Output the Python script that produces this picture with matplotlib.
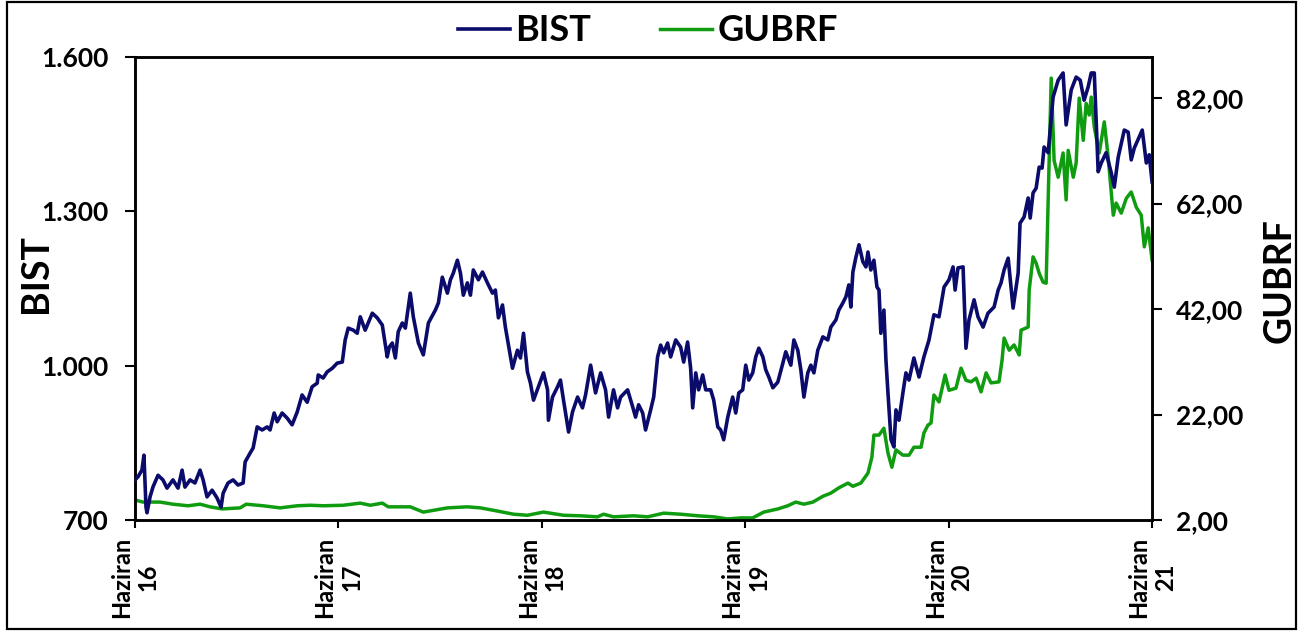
import numpy as np
import matplotlib
matplotlib.use("Agg")
import matplotlib.pyplot as plt
from matplotlib.patches import Rectangle
from matplotlib.ticker import FuncFormatter

plt.rcParams['font.family'] = ['Lato', 'DejaVu Sans']
plt.rcParams['font.weight'] = 'bold'

# x = months since Haziran 2016
bist_months = [0.00, 0.18, 0.41, 0.53, 0.65, 0.71, 0.89, 1.06, 1.36, 1.65, 1.89, 2.24, 2.54, 2.78, 2.95,
               3.25, 3.54, 3.84, 4.02, 4.25, 4.55, 4.84, 5.08, 5.20, 5.49, 5.79, 6.08, 6.38, 6.50, 6.79,
               6.97, 7.21, 7.50, 7.80, 7.97, 8.21, 8.39, 8.68, 8.98, 9.27, 9.57, 9.86, 10.16, 10.45, 10.75,
               10.81, 11.10, 11.34, 11.64, 11.93, 12.23, 12.40, 12.58, 12.88, 13.11, 13.29, 13.58, 14.00,
               14.29, 14.59, 14.88, 15.00, 15.18, 15.36, 15.53, 15.77, 15.95, 16.24, 16.42, 16.72, 17.01,
               17.31, 17.72, 17.90, 18.13, 18.43, 18.61, 18.78, 19.02, 19.20, 19.37, 19.61, 19.79, 19.96,
               20.26, 20.50, 20.79, 21.09, 21.26, 21.44, 21.68, 21.85, 22.27, 22.56, 22.74, 22.92, 23.15,
               23.33, 23.51, 23.80, 24.10, 24.34, 24.39, 24.63, 24.93, 25.10, 25.28, 25.58, 25.81, 26.11,
               26.40, 26.58, 26.88, 27.17, 27.47, 27.76, 27.94, 28.23, 28.47, 28.65, 29.06, 29.36, 29.53,
               29.71, 29.95, 30.12, 30.42, 30.60, 30.83, 31.01, 31.19, 31.42, 31.60, 31.90, 32.19, 32.37,
               32.60, 32.78, 32.90, 33.08, 33.25, 33.49, 33.67, 33.96, 34.14, 34.38, 34.55, 34.73, 34.97,
               35.26, 35.44, 35.62, 35.85, 36.03, 36.21, 36.44, 36.62, 36.80, 37.04, 37.21, 37.39, 37.63,
               37.92, 38.22, 38.39, 38.69, 38.87, 39.10, 39.28, 39.46, 39.69, 39.87, 40.05, 40.28, 40.58,
               40.87, 41.05, 41.35, 41.52, 41.76, 41.94, 42.11, 42.23, 42.35, 42.53, 42.71, 42.94, 43.12,
               43.24, 43.41, 43.59, 43.77, 43.89, 44.00, 44.18, 44.30, 44.42, 44.60, 44.77, 44.89, 45.07,
               45.30, 45.48, 45.66, 45.95, 46.25, 46.54, 46.84, 47.13, 47.43, 47.73, 48.02, 48.26, 48.38,
               48.55, 48.85, 49.02, 49.20, 49.50, 49.73, 50.03, 50.32, 50.68, 50.92, 51.09, 51.27, 51.51,
               51.68, 51.80, 52.10, 52.21, 52.45, 52.69, 52.81, 52.98, 53.16, 53.34, 53.51, 53.63, 53.87,
               54.16, 54.46, 54.75, 54.93, 55.23, 55.52, 55.76, 55.99, 56.23, 56.41, 56.59, 56.70, 56.82,
               57.00, 57.29, 57.59, 57.77, 58.00, 58.36, 58.59, 58.77, 58.95, 59.42, 59.66, 59.83, 60.00]
bist = [778, 784, 797, 826, 725, 714, 745, 764, 787, 778, 762, 778, 762, 797, 764,
        778, 772, 797, 778, 745, 758, 743, 725, 752, 772, 778, 768, 772, 813, 830,
        840, 881, 875, 881, 875, 908, 891, 908, 898, 885, 910, 943, 929, 959, 966,
        982, 976, 988, 995, 1005, 1007, 1050, 1073, 1069, 1063, 1095, 1069, 1102,
        1093, 1079, 1017, 1036, 1044, 1015, 1066, 1083, 1073, 1141, 1095, 1044, 1021,
        1083, 1108, 1122, 1172, 1141, 1167, 1180, 1205, 1180, 1137, 1161, 1137, 1186,
        1167, 1182, 1161, 1141, 1147, 1093, 1118, 1075, 995, 1030, 1015, 1063, 988,
        966, 933, 959, 986, 953, 894, 939, 959, 972, 933, 871, 910, 939,
        918, 943, 1001, 947, 986, 953, 900, 953, 918, 939, 953, 920, 900,
        924, 908, 875, 914, 939, 1017, 1040, 1025, 1044, 1017, 1050, 1036, 1007,
        1046, 995, 918, 986, 953, 982, 953, 953, 933, 881, 875, 856, 900,
        939, 908, 947, 953, 1001, 972, 986, 1017, 1034, 1017, 992, 978, 957,
        968, 1005, 1027, 1001, 1050, 1030, 992, 939, 986, 1001, 986, 1030, 1056,
        1050, 1075, 1089, 1108, 1122, 1134, 1157, 1114, 1182, 1211, 1235, 1202, 1192,
        1221, 1186, 1205, 1153, 1147, 1063, 1108, 1011, 947, 856, 842, 914, 894,
        947, 986, 972, 1015, 978, 1017, 1050, 1099, 1095, 1153, 1167, 1192, 1147,
        1190, 1192, 1034, 1089, 1128, 1095, 1075, 1102, 1114, 1147, 1161, 1186, 1209,
        1153, 1112, 1180, 1277, 1289, 1326, 1287, 1336, 1345, 1386, 1384, 1425, 1414,
        1522, 1555, 1569, 1468, 1536, 1561, 1555, 1516, 1542, 1569, 1569, 1478, 1377,
        1394, 1414, 1375, 1347, 1405, 1458, 1454, 1400, 1423, 1458, 1394, 1410, 1357]

gubrf_months = [0.00, 0.47, 1.48, 2.24, 3.13, 3.84, 4.43, 5.14, 6.20, 6.56, 7.56, 8.56, 9.57, 10.34,
                11.10, 12.29, 13.29, 13.88, 14.59, 14.94, 16.24, 17.01, 18.43, 19.61, 20.38, 21.38,
                22.33, 23.15, 24.10, 25.28, 26.28, 27.29, 27.64, 28.23, 29.42, 30.24, 31.19, 32.19,
                33.20, 34.14, 34.97, 35.74, 36.44, 37.09, 37.92, 38.51, 38.98, 39.46, 39.99, 40.58,
                41.05, 41.52, 42.06, 42.35, 42.82, 43.24, 43.47, 43.59, 43.89, 44.18, 44.42, 44.65,
                44.89, 45.30, 45.66, 45.95, 46.37, 46.54, 46.78, 46.96, 47.13, 47.43, 47.79, 48.02,
                48.43, 48.73, 49.02, 49.32, 49.62, 49.91, 50.21, 50.50, 50.97, 51.15, 51.27, 51.57,
                51.86, 52.16, 52.27, 52.69, 52.75, 52.98, 53.16, 53.34, 53.57, 53.75, 53.87, 54.05,
                54.22, 54.46, 54.75, 54.93, 55.05, 55.35, 55.52, 55.70, 55.94, 56.11, 56.29, 56.41,
                56.59, 56.88, 57.18, 57.41, 57.71, 57.88, 58.18, 58.48, 58.77, 59.07, 59.36, 59.54,
                59.77, 60.00]
gubrf = [5.8, 5.4, 5.4, 5.0, 4.7, 5.0, 4.5, 4.1, 4.3, 5.0, 4.7, 4.3, 4.7, 4.8,
         4.7, 4.8, 5.2, 4.8, 5.2, 4.5, 4.5, 3.5, 4.3, 4.5, 4.3, 3.7,
         3.1, 2.9, 3.5, 2.9, 2.8, 2.6, 3.1, 2.6, 2.8, 2.6, 3.3, 3.1,
         2.8, 2.6, 2.2, 2.4, 2.4, 3.5, 4.1, 4.7, 5.4, 5.0, 5.4, 6.5,
         7.1, 8.1, 9.0, 8.4, 9.0, 10.9, 13.9, 18.1, 18.1, 19.4, 14.7, 12.0,
         15.3, 14.3, 14.3, 15.8, 15.8, 18.5, 20.0, 20.4, 25.7, 24.4, 29.5, 26.6,
         27.0, 30.8, 28.5, 28.2, 28.9, 26.3, 29.9, 28.0, 28.2, 32.3, 36.5, 34.2,
         35.2, 33.3, 38.0, 38.6, 45.6, 51.9, 50.7, 48.8, 47.1, 46.9, 62.7, 85.8,
         70.2, 67.0, 71.6, 62.7, 72.1, 67.0, 69.7, 82.0, 74.0, 81.0, 78.8, 82.2,
         76.5, 71.6, 77.5, 70.8, 59.8, 62.1, 60.2, 63.0, 64.2, 61.3, 59.8, 53.8,
         57.4, 51.3]

tick_months = [0, 12, 24, 36, 48, 60]
tick_labels = ['Haziran\n16', 'Haziran\n17', 'Haziran\n18', 'Haziran\n19', 'Haziran\n20', 'Haziran\n21']

fig = plt.figure(figsize=(13.04, 6.32), dpi=100)
ax = fig.add_axes([0.1035, 0.1772, 0.78, 0.7326])
ax2 = ax.twinx()

l1, = ax.plot(bist_months, bist, color='#0b0b6b', lw=2.6, label='BIST', zorder=3)
l2, = ax2.plot(gubrf_months, gubrf, color='#109c10', lw=2.5, label='GUBRF', zorder=2)
ax.set_zorder(ax2.get_zorder() + 1)
ax.patch.set_visible(False)

ax.set_xlim(0, 60)
ax.set_ylim(700, 1600)
ax.set_yticks([700, 1000, 1300, 1600])
ax.yaxis.set_major_formatter(FuncFormatter(lambda v, p: f'{int(v):,}'.replace(',', '.')))
ax2.set_ylim(2, 89.8)
ax2.set_yticks([2, 22, 42, 62, 82])
ax2.yaxis.set_major_formatter(FuncFormatter(lambda v, p: f'{v:.2f}'.replace('.', ',')))

ax.set_xticks(tick_months)
ax.set_xticklabels(tick_labels, rotation=90, fontsize=17, fontweight='bold', multialignment='center')

ax.tick_params(axis='y', direction='out', length=7, width=1.5, labelsize=19, pad=12)
ax.tick_params(axis='x', direction='out', length=6, width=1.5, pad=6)
ax2.tick_params(axis='y', direction='out', length=7, width=1.5, labelsize=19, pad=10)

for a in (ax, ax2):
    for s in a.spines.values():
        s.set_linewidth(1.8)

ax.set_ylabel('BIST', fontsize=27, fontweight='bold')
ax.yaxis.set_label_coords(-0.081, 0.533)
ax2.set_ylabel('GUBRF', fontsize=27, fontweight='bold')
ax2.yaxis.set_label_coords(1.109, 0.518)

fig.legend([l1, l2], ['BIST', 'GUBRF'], loc='center', bbox_to_anchor=(0.497, 0.951), ncol=2,
           frameon=False, handlelength=1.45, handletextpad=0.15, columnspacing=1.9,
           prop={'weight': 'bold', 'size': 26})

# outer frame round the whole picture
fig.patches.append(Rectangle((0.0054, 0.0047), 0.9885, 0.992, transform=fig.transFigure,
                             fill=False, edgecolor='black', lw=1.6))

fig.savefig('out.png', dpi=100)
